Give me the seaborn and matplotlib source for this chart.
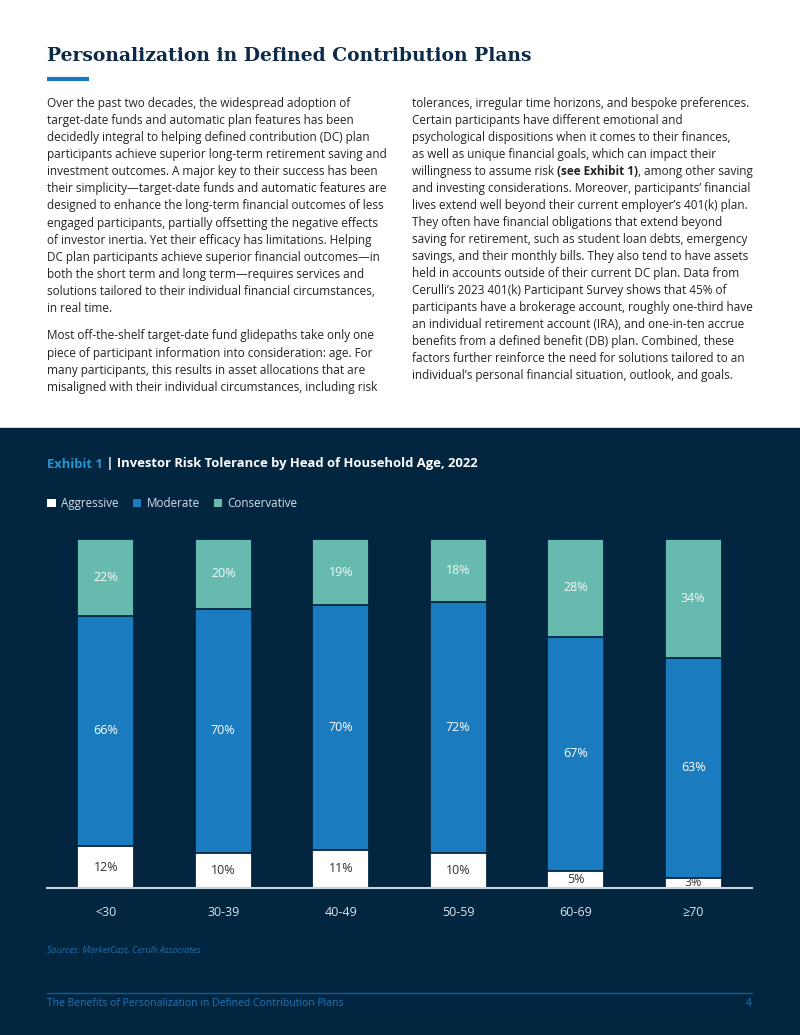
import numpy as np
import pandas as pd
import matplotlib.pyplot as plt
import seaborn as sns
from matplotlib.patches import Rectangle, Patch

# Chart data
age_groups = ["<30", "30-39", "40-49", "50-59", "60-69", "≥70"]
aggressive = [12, 10, 11, 10, 5, 3]
moderate = [66, 70, 70, 72, 67, 63]
conservative = [22, 20, 19, 18, 28, 34]

# Page copy
left_lines = [
    "Over the past two decades, the widespread adoption of",
    "target-date funds and automatic plan features has been",
    "decidedly integral to helping defined contribution (DC) plan",
    "participants achieve superior long-term retirement saving and",
    "investment outcomes. A major key to their success has been",
    "their simplicity\u2014target-date funds and automatic features are",
    "designed to enhance the long-term financial outcomes of less",
    "engaged participants, partially offsetting the negative effects",
    "of investor inertia. Yet their efficacy has limitations. Helping",
    "DC plan participants achieve superior financial outcomes\u2014in",
    "both the short term and long term\u2014requires services and",
    "solutions tailored to their individual financial circumstances,",
    "in real time.",
]
left_lines_2 = [
    "Most off-the-shelf target-date fund glidepaths take only one",
    "piece of participant information into consideration: age. For",
    "many participants, this results in asset allocations that are",
    "misaligned with their individual circumstances, including risk",
]
right_lines = [
    "tolerances, irregular time horizons, and bespoke preferences.",
    "Certain participants have different emotional and",
    "psychological dispositions when it comes to their finances,",
    "as well as unique financial goals, which can impact their",
    None,  # line with bold reference, drawn separately
    "and investing considerations. Moreover, participants\u2019 financial",
    "lives extend well beyond their current employer\u2019s 401(k) plan.",
    "They often have financial obligations that extend beyond",
    "saving for retirement, such as student loan debts, emergency",
    "savings, and their monthly bills. They also tend to have assets",
    "held in accounts outside of their current DC plan. Data from",
    "Cerulli\u2019s 2023 401(k) Participant Survey shows that 45% of",
    "participants have a brokerage account, roughly one-third have",
    "an individual retirement account (IRA), and one-in-ten accrue",
    "benefits from a defined benefit (DB) plan. Combined, these",
    "factors further reinforce the need for solutions tailored to an",
    "individual\u2019s personal financial situation, outlook, and goals.",
]

NAVY = "#022640"
BLUE = "#1a7bbf"
TEAL = "#67bbae"
TEXT = "#232323"

sns.set_theme(style="white")
plt.rcParams['font.family'] = ['Open Sans', 'DejaVu Sans']

fig = plt.figure(figsize=(8, 10.35), dpi=100)

# background layer in pixel coordinates
bg = fig.add_axes([0, 0, 1, 1])
bg.set_xlim(0, 800)
bg.set_ylim(1035, 0)
bg.axis('off')
bg.add_patch(Rectangle((0, 428), 800, 607, color=NAVY, zorder=0))

# page title
bg.text(47, 56, "Personalization in Defined Contribution Plans", family='DejaVu Serif',
        weight='bold', fontsize=13.5, color="#0d2a47", va='center', ha='left')
bg.plot([47, 89], [79, 79], color="#1a7abf", lw=3, solid_capstyle='butt')

# body text
body_fs = 8.5
step = 17.15
for i, line in enumerate(left_lines):
    bg.text(47, 103 + i * step, line, fontsize=body_fs, color=TEXT, va='center')
for i, line in enumerate(left_lines_2):
    bg.text(47, 336 + i * step, line, fontsize=body_fs, color=TEXT, va='center')
step_r = 17.06
for i, line in enumerate(right_lines):
    y = 103 + i * step_r
    if line is None:
        t1 = bg.text(412, y, "willingness to assume risk ", fontsize=body_fs, color=TEXT, va='center')
        t2 = bg.annotate("(see Exhibit 1)", xy=(1, 0.5), xycoords=t1, fontsize=body_fs,
                         color=TEXT, weight='bold', va='center', ha='left')
        bg.annotate(", among other saving", xy=(1, 0.5), xycoords=t2, fontsize=body_fs,
                    color=TEXT, va='center', ha='left')
    else:
        bg.text(412, y, line, fontsize=body_fs, color=TEXT, va='center')

# exhibit title
e1 = bg.text(47, 464, "Exhibit 1", fontsize=9.4, weight='bold', color="#2196d3", va='center')
bg.annotate(" | Investor Risk Tolerance by Head of Household Age, 2022", xy=(1, 0.5), xycoords=e1,
            fontsize=9.4, weight='bold', color='white', va='center', ha='left')

# stacked bars drawn as cumulative layers
df = pd.DataFrame({"age": age_groups, "aggressive": aggressive,
                   "moderate": moderate, "conservative": conservative})
df["mid"] = df["aggressive"] + df["moderate"]
df["total"] = df["mid"] + df["conservative"]

ax = fig.add_axes([47 / 800, (1035 - 888) / 1035, 705 / 800, 349 / 1035])
ax.set_facecolor('none')
for col, color in [("total", TEAL), ("mid", BLUE), ("aggressive", "white")]:
    sns.barplot(data=df, x="age", y=col, color=color, width=0.485, saturation=1,
                edgecolor=NAVY, linewidth=1.3, ax=ax)

for i in range(len(age_groups)):
    ax.text(i, aggressive[i] / 2, f"{aggressive[i]}%", ha='center', va='center',
            color="#333333", fontsize=9)
    ax.text(i, aggressive[i] + moderate[i] / 2, f"{moderate[i]}%", ha='center', va='center',
            color="white", fontsize=9)
    ax.text(i, aggressive[i] + moderate[i] + conservative[i] / 2, f"{conservative[i]}%",
            ha='center', va='center', color="#f2f7f6", fontsize=9)

ax.set_xlim(-0.5, 5.5)
ax.set_ylim(0, 100)
ax.set_xlabel("")
ax.set_ylabel("")
ax.set_yticks([])
ax.grid(False)
for s in ["top", "left", "right"]:
    ax.spines[s].set_visible(False)
ax.spines["bottom"].set_color("#c9d3de")
ax.spines["bottom"].set_linewidth(1.5)
ax.tick_params(axis='x', length=0, pad=13, labelcolor="#dde4ec", labelsize=9)

# legend
handles = [Patch(facecolor="white", edgecolor="none", label="Aggressive"),
           Patch(facecolor=BLUE, edgecolor="none", label="Moderate"),
           Patch(facecolor=TEAL, edgecolor="none", label="Conservative")]
fig.legend(handles=handles, loc='upper left', bbox_to_anchor=(47 / 800, 1 - 497 / 1035),
           ncol=3, frameon=False, handlelength=0.75, handleheight=0.75, handletextpad=0.45,
           columnspacing=1.2, borderaxespad=0, borderpad=0, fontsize=8.4,
           labelcolor="#d6dee8")

# sources and footer
bg.text(47, 951, "Sources: MarketCast, Cerulli Associates", style='italic', color="#1f6ea6",
        fontsize=6.5, va='center')
bg.plot([47, 752], [993, 993], color="#155a8f", lw=1)
bg.text(47, 1004, "The Benefits of Personalization in Defined Contribution Plans",
        color="#1e75b8", fontsize=7.5, va='center')
bg.text(752, 1004, "4", color="#1e75b8", fontsize=7.5, va='center', ha='right')

fig.savefig("out.png", dpi=100)
